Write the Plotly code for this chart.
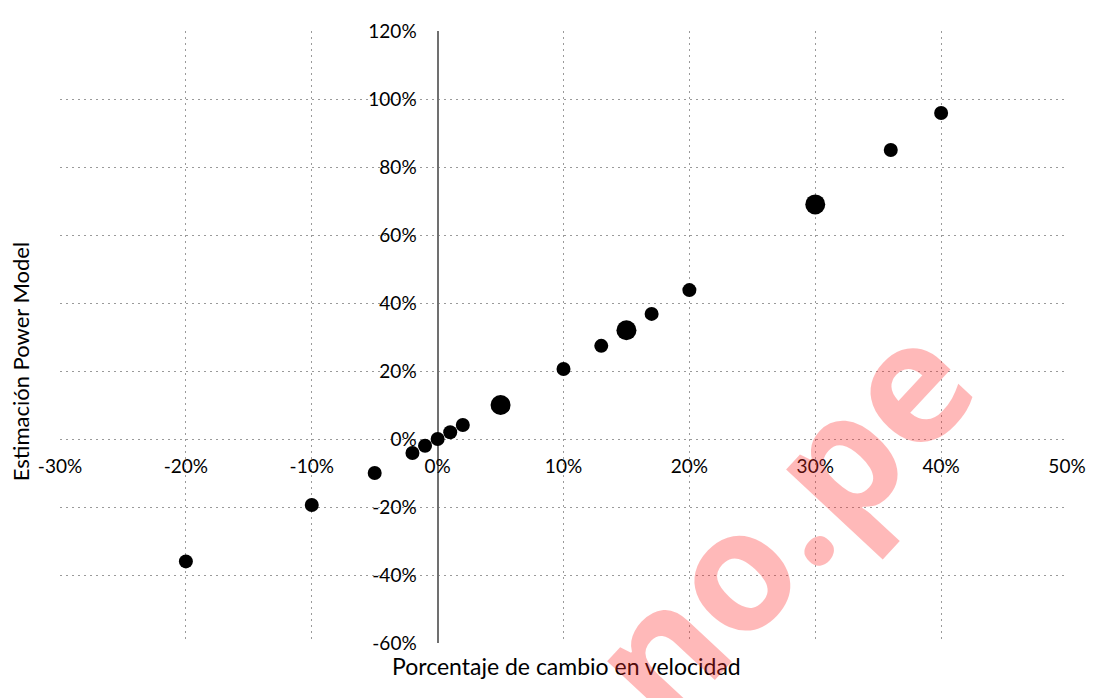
import plotly.graph_objects as go

# Percentage change in speed (x) vs power-model estimate (y), in %
speed_change = [-20, -10, -5, -2, -1, 0, 1, 2, 10, 13, 17, 20, 36, 40]
power_estimate = [-36, -19.4, -10, -4.1, -2, 0, 2, 4.1, 20.6, 27.4, 36.8, 43.8, 85, 95.9]

# Highlighted (larger) points
speed_change_hl = [5, 15, 30]
power_estimate_hl = [10, 32, 69]

x_ticks = [-30, -20, -10, 0, 10, 20, 30, 40, 50]
y_ticks = [-60, -40, -20, 0, 20, 40, 60, 80, 100, 120]

FONT = "Lato, 'DejaVu Sans', sans-serif"

fig = go.Figure()
fig.add_trace(go.Scatter(
    x=speed_change, y=power_estimate, mode="markers",
    marker=dict(color="black", size=14, line=dict(width=0)),
    showlegend=False,
))
fig.add_trace(go.Scatter(
    x=speed_change_hl, y=power_estimate_hl, mode="markers",
    marker=dict(color="black", size=20, line=dict(width=0)),
    showlegend=False,
))

fig.update_layout(
    width=1112, height=698,
    margin=dict(l=52, r=53, t=23, b=63),
    paper_bgcolor="white", plot_bgcolor="white",
    font=dict(family=FONT, size=19, color="black"),
    xaxis=dict(
        range=[-30, 50], tickvals=x_ticks,
        ticktext=[f"{v}%" for v in x_ticks],
        showgrid=True, gridcolor="#9a9a9a", griddash="2px,4px", gridwidth=1,
        zeroline=True, zerolinecolor="#707070", zerolinewidth=2,
        showline=False, anchor="free", position=1/3,
        ticks="", ticklabelstandoff=14,
        tickfont=dict(family=FONT, size=19, color="black"),
    ),
    yaxis=dict(
        range=[-60, 120], tickvals=y_ticks,
        ticktext=[f"{v}%" for v in y_ticks],
        showgrid=True, gridcolor="#9a9a9a", griddash="2px,4px", gridwidth=1,
        zeroline=False,
        showline=False, anchor="free", position=0.375,
        ticks="", ticklabelstandoff=21,
        tickfont=dict(family=FONT, size=19, color="black"),
    ),
    annotations=[
        dict(text="Porcentaje de cambio en velocidad", xref="paper", yref="paper",
             x=0.503, y=-0.037, xanchor="center", yanchor="middle", showarrow=False,
             font=dict(family=FONT, size=23, color="black")),
        dict(text="Estimación Power Model", xref="paper", yref="paper",
             x=-0.039, y=0.46, xanchor="center", yanchor="middle", showarrow=False,
             textangle=-90, font=dict(family=FONT, size=22, color="black")),
        dict(text="<b>no.pe</b>", xref="paper", yref="paper",
             x=0.712, y=0.205, xanchor="center", yanchor="middle", showarrow=False,
             textangle=-47, opacity=0.32,
             font=dict(family="'Open Sans', sans-serif", size=168, color="#ff2a2a")),
    ],
)

fig.write_html("out.html")
